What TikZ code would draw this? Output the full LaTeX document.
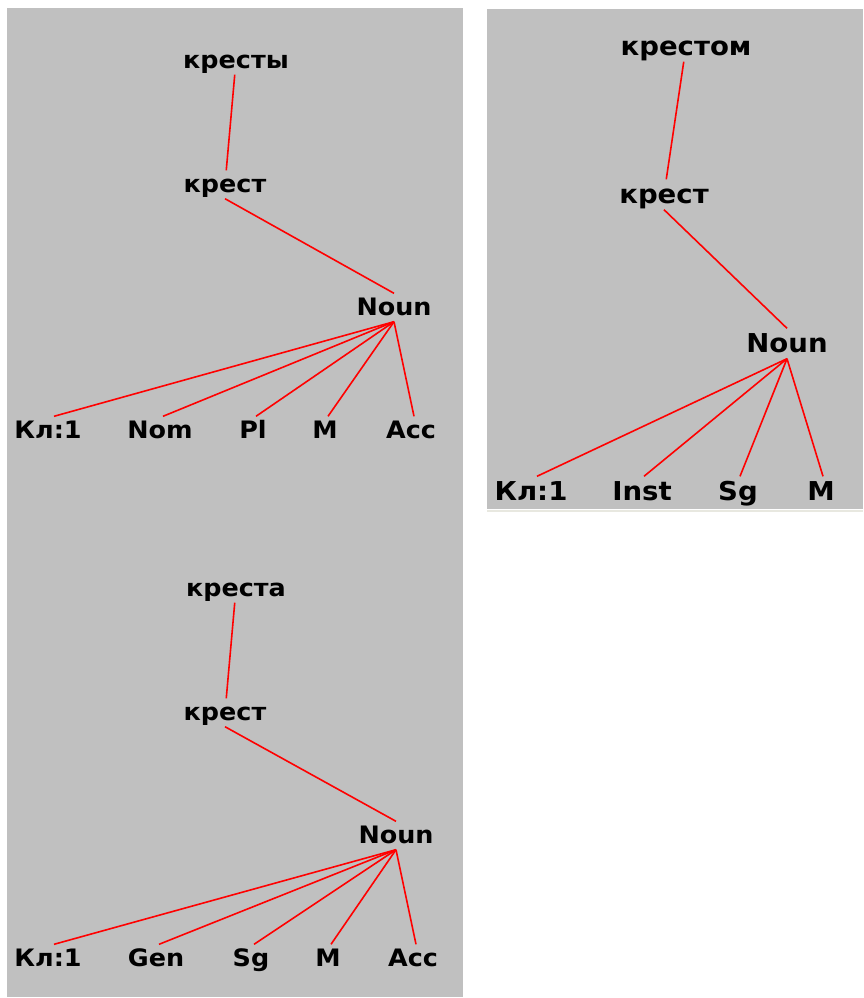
\documentclass[tikz,border=0pt]{standalone}
\usepackage{fontspec}
\newfontfamily\treefont[FakeStretch=1.06]{DejaVu Sans}
\definecolor{panelgray}{RGB}{192,192,192}
\definecolor{edgelight}{RGB}{232,232,224}
\tikzset{
  word/.style={font=\treefont\bfseries\fontsize{24}{24}\selectfont,
    inner sep=0pt, text height=18pt, text depth=2pt, minimum height=28pt},
  wordbig/.style={word, font=\treefont\bfseries\fontsize{26}{26}\selectfont,
    text height=19pt, text depth=1pt, minimum height=30pt},
  link/.style={red, line width=1.6pt},
  panel/.style={fill=panelgray, draw=none}
}
\begin{document}
\begin{tikzpicture}[x=1pt, y=-1pt]
  \useasboundingbox (0,0) rectangle (863,998);
  \fill[white] (0,0) rectangle (863,998);

  % gray panels
  \path[panel] (7,8) rectangle (463,997);
  \path[panel] (487,9) rectangle (863,509);
  \draw[edgelight, line width=2pt] (487,511) -- (863,511);

  % tree: кресты
  \node[word] (w1) at (236,60.5) {кресты};
  \node[word] (s1) at (225,184.5) {крест};
  \node[word] (n1) at (394,307.5) {Noun};
  \node[word] (a1) at (48,430.5) {Кл:1};
  \node[word] (b1) at (160,430.5) {Nom};
  \node[word] (c1) at (253,430.5) {Pl};
  \node[word] (d1) at (325,430.5) {M};
  \node[word] (e1) at (411,430.5) {Acc};

  \draw[link] (w1) -- (s1);
  \draw[link] (s1.south) -- (n1.north);
  \draw[link] (n1.south) -- ([xshift=6pt]a1.north);
  \foreach \leaf in {b1,c1,d1,e1}
    \draw[link] (n1.south) -- ([xshift=3pt]\leaf.north);

  % tree: креста
  \node[word] (w2) at (236,588.5) {креста};
  \node[word] (s2) at (225,712.5) {крест};
  \node[word] (n2) at (396,835.5) {Noun};
  \node[word] (a2) at (48,958.5) {Кл:1};
  \node[word] (b2) at (156,958.5) {Gen};
  \node[word] (c2) at (251,958.5) {Sg};
  \node[word] (d2) at (328,958.5) {M};
  \node[word] (e2) at (413,958.5) {Acc};

  \draw[link] (w2) -- (s2);
  \draw[link] (s2.south) -- (n2.north);
  \draw[link] (n2.south) -- ([xshift=6pt]a2.north);
  \foreach \leaf in {b2,c2,d2,e2}
    \draw[link] (n2.south) -- ([xshift=3pt]\leaf.north);

  % tree: крестом
  \node[wordbig] (w3) at (686,46.5) {крестом};
  \node[wordbig] (s3) at (664,194.5) {крест};
  \node[wordbig] (n3) at (787,343.5) {Noun};
  \node[wordbig] (a3) at (531,491.5) {Кл:1};
  \node[wordbig] (b3) at (642,491.5) {Inst};
  \node[wordbig] (c3) at (738,491.5) {Sg};
  \node[wordbig] (d3) at (821,491.5) {M};

  \draw[link] (w3) -- (s3);
  \draw[link] (s3.south) -- (n3.north);
  \draw[link] (n3.south) -- ([xshift=6pt]a3.north);
  \foreach \leaf in {b3,c3,d3}
    \draw[link] (n3.south) -- ([xshift=2pt]\leaf.north);
\end{tikzpicture}
\end{document}
